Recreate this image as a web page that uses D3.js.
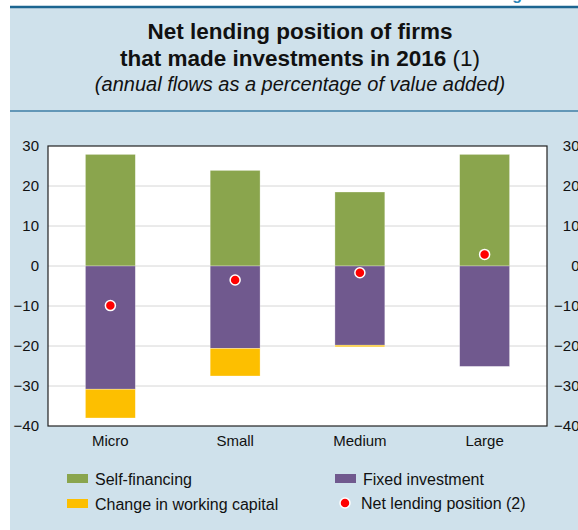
<!DOCTYPE html>
<html>
<head>
<meta charset="utf-8">
<script src="https://cdn.jsdelivr.net/npm/d3@7"></script>
<style>
  body { margin: 0; background: #fff; }
  svg { display: block; font-family: "Liberation Sans", Arial, sans-serif; }
</style>
</head>
<body>
<div id="chart"></div>
<script>
const width = 578, height = 530;
const margin = {top: 146, right: 31, bottom: 104, left: 48};

// data
const categories = ['Micro', 'Small', 'Medium', 'Large'];
const selfFinancing = [27.9, 23.9, 18.5, 27.9];
const fixedInvestment = [-30.8, -20.6, -19.8, -25.1];
const workingCapital = [-7.2, -6.9, -0.4, 0];
const netLending = [-9.9, -3.5, -1.7, 2.9];
const yTicks = [30, 20, 10, 0, -10, -20, -30, -40];

const colors = {self: '#8aa54d', fixed: '#70598e', wc: '#fdbf00', dot: '#ff0000'};

const svg = d3.select('#chart').append('svg')
    .attr('width', width)
    .attr('height', height);

// panel background
svg.append('rect')
    .attr('x', 10).attr('y', 7)
    .attr('width', width - 10).attr('height', height - 7)
    .attr('fill', '#cfe1eb');

// figure label, cut off at the top (only descenders show)
svg.append('text')
    .attr('x', 498).attr('y', 0)
    .attr('font-size', 16)
    .attr('font-weight', 'bold')
    .attr('fill', '#2b86b8')
    .text('Figure 8');

svg.append('rect')
    .attr('x', 0).attr('y', 4)
    .attr('width', width).attr('height', 2)
    .attr('fill', '#fff');

svg.append('line')
    .attr('x1', 10).attr('x2', width)
    .attr('y1', 7).attr('y2', 7)
    .attr('stroke', '#1c6590')
    .attr('stroke-width', 2.5);

svg.append('line')
    .attr('x1', 10).attr('x2', width)
    .attr('y1', 111).attr('y2', 111)
    .attr('stroke', '#3f7ea6')
    .attr('stroke-width', 1.5);

// titles
const cx = 300;
svg.append('text')
    .attr('x', cx).attr('y', 39)
    .attr('text-anchor', 'middle')
    .attr('font-size', 22.5)
    .attr('font-weight', 'bold')
    .attr('fill', '#111')
    .text('Net lending position of firms');

const title2 = svg.append('text')
    .attr('x', cx).attr('y', 66)
    .attr('text-anchor', 'middle')
    .attr('font-size', 22.5)
    .attr('fill', '#111');
title2.append('tspan').attr('font-weight', 'bold').text('that made investments in 2016 ');
title2.append('tspan').text('(1)');

svg.append('text')
    .attr('x', cx).attr('y', 91)
    .attr('text-anchor', 'middle')
    .attr('font-size', 20)
    .attr('font-style', 'italic')
    .attr('fill', '#111')
    .text('(annual flows as a percentage of value added)');

// scales
const x = d3.scaleBand()
    .domain(categories)
    .range([margin.left, width - margin.right])
    .paddingInner(0.6)
    .paddingOuter(0.3);

const y = d3.scaleLinear()
    .domain([-40, 30])
    .range([height - margin.bottom, margin.top]);

// plot area
svg.append('rect')
    .attr('x', margin.left).attr('y', margin.top)
    .attr('width', width - margin.left - margin.right)
    .attr('height', y(-40) - y(30))
    .attr('fill', '#fff');

// gridlines
svg.append('g')
    .selectAll('line')
    .data(yTicks.filter(d => d !== 30 && d !== -40))
    .enter().append('line')
    .attr('x1', margin.left).attr('x2', width - margin.right)
    .attr('y1', d => y(d)).attr('y2', d => y(d))
    .attr('stroke', '#d6d6d6')
    .attr('stroke-width', 1);

// stacked bars
const bars = svg.append('g');
categories.forEach((c, i) => {
    const segs = [
        {y0: 0, y1: selfFinancing[i], fill: colors.self},
        {y0: 0, y1: fixedInvestment[i], fill: colors.fixed},
        {y0: fixedInvestment[i], y1: fixedInvestment[i] + workingCapital[i], fill: colors.wc}
    ];
    segs.forEach(s => {
        if (s.y0 === s.y1) return;
        bars.append('rect')
            .attr('x', x(c))
            .attr('width', x.bandwidth())
            .attr('y', y(Math.max(s.y0, s.y1)))
            .attr('height', Math.abs(y(s.y0) - y(s.y1)))
            .attr('fill', s.fill)
            .attr('stroke', '#fff')
            .attr('stroke-opacity', 0.5)
            .attr('stroke-width', 0.6);
    });
});

// net lending dots
svg.append('g')
    .selectAll('circle')
    .data(netLending)
    .enter().append('circle')
    .attr('cx', (d, i) => x(categories[i]) + x.bandwidth() / 2)
    .attr('cy', d => y(d))
    .attr('r', 5)
    .attr('fill', colors.dot)
    .attr('stroke', '#fff')
    .attr('stroke-width', 1.5);

// frame
svg.append('rect')
    .attr('x', margin.left).attr('y', margin.top)
    .attr('width', width - margin.left - margin.right)
    .attr('height', y(-40) - y(30))
    .attr('fill', 'none')
    .attr('stroke', '#222')
    .attr('stroke-width', 1.2);

// axes
const left = svg.append('g')
    .attr('transform', `translate(${margin.left},0)`)
    .call(d3.axisLeft(y).tickValues(yTicks).tickSize(0).tickPadding(9));
const right = svg.append('g')
    .attr('transform', `translate(${width - margin.right},0)`)
    .call(d3.axisRight(y).tickValues(yTicks).tickSize(0));
const bottom = svg.append('g')
    .attr('transform', `translate(0,${height - margin.bottom})`)
    .call(d3.axisBottom(x).tickSize(0).tickPadding(9));

[left, right, bottom].forEach(g => {
    g.select('.domain').remove();
    g.selectAll('text')
        .attr('font-size', 15)
        .attr('font-family', '"Liberation Sans", Arial, sans-serif')
        .attr('fill', '#111');
});

// right-hand labels are right-aligned and run off the edge a little
right.selectAll('text')
    .attr('text-anchor', 'end')
    .attr('x', 32.5);

// legend
const legendItems = [
    {label: 'Self-financing', type: 'rect', fill: colors.self, x: 67, y: 479},
    {label: 'Change in working capital', type: 'rect', fill: colors.wc, x: 67, y: 504},
    {label: 'Fixed investment', type: 'rect', fill: colors.fixed, x: 335, y: 479},
    {label: 'Net lending position (2)', type: 'dot', fill: colors.dot, x: 335, y: 503}
];
const legend = svg.append('g');
legendItems.forEach(it => {
    if (it.type === 'rect') {
        legend.append('rect')
            .attr('x', it.x).attr('y', it.y - 5)
            .attr('width', 21).attr('height', 9)
            .attr('fill', it.fill);
    } else {
        legend.append('circle')
            .attr('cx', it.x + 10).attr('cy', it.y)
            .attr('r', 5)
            .attr('fill', it.fill)
            .attr('stroke', '#fff')
            .attr('stroke-width', 1.5);
    }
    legend.append('text')
        .attr('x', it.x + (it.type === 'rect' ? 28 : 26))
        .attr('y', it.y + 5.5)
        .attr('font-size', 16)
        .attr('fill', '#111')
        .text(it.label);
});
</script>
</body>
</html>
